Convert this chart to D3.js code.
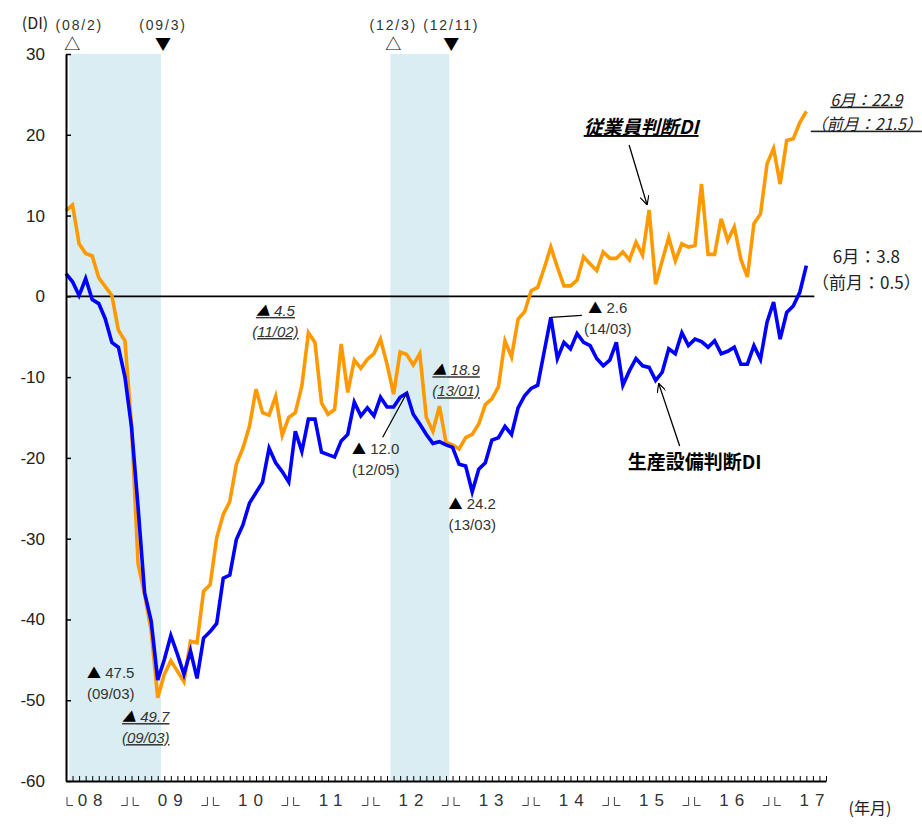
<!DOCTYPE html>
<html>
<head>
<meta charset="utf-8">
<script src="https://cdn.jsdelivr.net/npm/d3@7"></script>
<style>
body { margin: 0; background: #fff; }
text { font-family: 'Liberation Sans', 'Noto Sans CJK JP', sans-serif; fill: #222; }
.jp { font-family: 'Noto Sans CJK JP', sans-serif; }
</style>
</head>
<body>
<div id="chart"></div>
<script>
(function(){
var width = 922,
height = 826

let margin = { top: 54, left: 66, right: 96, bottom: 45 }

// data
var years = ['08','09','10','11','12','13','14','15','16','17']
var lastMonth = '17/06'

// 従業員判断DI (monthly, 08/01 - 17/06)
var employment = [
  10.6, 11.3, 6.5, 5.3, 5.0, 2.3, 1.2, 0.1, -4.2, -5.5, -16.0, -33.1,
  -36.9, -41.4, -49.7, -46.8, -45.1, -46.4, -47.7, -42.7, -42.9, -36.5, -35.7, -29.9,
  -27.0, -25.4, -20.8, -18.8, -16.1, -11.5, -14.4, -14.7, -12.4, -17.2, -15.0, -14.4,
  -11.1, -4.5, -5.7, -13.2, -14.6, -14.0, -5.9, -11.9, -7.9, -8.9, -7.8, -7.1,
  -5.3, -8.4, -12.1, -6.9, -7.2, -8.5, -7.1, -15.0, -16.7, -13.6, -18.1, -18.4,
  -18.9, -17.5, -17.1, -15.8, -13.4, -12.7, -11.2, -5.5, -7.5, -2.8, -1.9, 0.7,
  1.1, 3.5, 6.1, 3.6, 1.3, 1.3, 2.0, 4.9, 4.0, 3.2, 5.5, 4.7,
  4.7, 5.5, 4.5, 6.7, 5.1, 10.7, 1.5, 4.4, 7.3, 4.4, 6.5, 6.1,
  6.3, 13.9, 5.2, 5.2, 9.6, 6.9, 8.6, 4.6, 2.4, 9.0, 10.2, 16.4,
  18.3, 13.9, 19.3, 19.5, 21.5, 22.9
]

// 生産設備判断DI (monthly, 08/01 - 17/06)
var equipment = [
  2.8, 1.8, 0.1, 2.2, -0.4, -0.9, -2.8, -5.7, -6.3, -10.0, -16.2, -26.1,
  -36.7, -40.2, -47.5, -45.0, -42.0, -44.3, -46.8, -43.9, -47.3, -42.3, -41.5, -40.5,
  -34.9, -34.5, -30.1, -28.3, -25.6, -24.3, -23.0, -18.8, -20.6, -21.7, -23.0, -16.7,
  -19.2, -15.2, -15.2, -19.3, -19.6, -19.9, -17.9, -17.1, -13.1, -14.8, -13.8, -14.8,
  -12.5, -13.7, -13.7, -12.5, -12.0, -14.6, -15.8, -17.1, -18.2, -18.0, -18.4, -18.7,
  -20.8, -21.0, -24.2, -21.4, -20.6, -17.8, -17.5, -16.1, -17.1, -13.8, -12.3, -11.4,
  -11.0, -6.8, -2.6, -7.7, -5.7, -6.5, -4.6, -5.7, -6.1, -7.7, -8.6, -7.9,
  -5.7, -11.0, -9.2, -7.7, -8.6, -8.8, -10.4, -9.4, -6.5, -7.1, -4.5, -6.1,
  -5.3, -5.6, -6.3, -5.5, -7.1, -6.8, -6.3, -8.4, -8.4, -6.1, -7.8, -3.2,
  -0.7, -5.3, -2.0, -1.2, 0.5, 3.8
]

var yTicks = [30, 20, 10, 0, -10, -20, -30, -40, -50, -60]

// 景気の山(△)・谷(▼)
var recessionFrom = ['08/02', '12/03']
var recessionTo = ['09/03', '12/11']
var turnLabels = ['(08/2)', '(09/3)', '(12/3)', '(12/11)']

// notes on lows
var noteSeries = ['equipment', 'employment', 'employment', 'equipment', 'employment', 'equipment', 'equipment']
var noteMonths = ['09/03', '09/03', '11/02', '12/05', '13/01', '13/03', '14/03']

// months 08/01 .. 17/09 (axis runs 3 months past the data)
var months = []
years.forEach(function(y) {
  for (var m = 1; m <= 12; m++) {
    if (y === '17' && m > 9) break
    months.push(y + '/' + (m < 10 ? '0' + m : m))
  }
})
var dataMonths = months.slice(0, months.indexOf(lastMonth) + 1)

var series = {
  employment: dataMonths.map(function(m, i) { return { m: m, v: employment[i] } }),
  equipment: dataMonths.map(function(m, i) { return { m: m, v: equipment[i] } })
}

let svg = d3
.select('#chart')
.append('svg')
.attr('width', width)
.attr('height', height)

var xScale = d3
.scalePoint()
.domain(months)
.range([margin.left, width - margin.right])
.padding(0)

var step = xScale.step()

var yScale = d3
.scaleLinear()
.domain([-60, 30])
.range([height - margin.bottom, margin.top])

// shaded recessions
svg.selectAll('.rec')
  .data(recessionFrom)
  .enter()
  .append('rect')
  .attr('class', 'rec')
  .attr('x', function(d) { return xScale(d) - step / 2 })
  .attr('width', function(d, i) { return xScale(recessionTo[i]) - xScale(d) + step })
  .attr('y', yScale(30))
  .attr('height', yScale(-60) - yScale(30))
  .attr('fill', '#daedf3')

// turning point marks
var turnX = []
recessionFrom.forEach(function(d, i) {
  turnX.push(xScale(d) - step / 2 + 3)
  turnX.push(xScale(recessionTo[i]) + step / 2 + 2)
})
svg.selectAll('.turn')
  .data(turnLabels)
  .enter()
  .append('text')
  .attr('x', function(d, i) { return turnX[i] + (i === 0 ? 7 : 0) })
  .attr('y', 30)
  .attr('text-anchor', 'middle')
  .style('font-size', '14px')
  .style('letter-spacing', '1.8px')
  .style('fill', '#333')
  .text(function(d) { return d })
svg.selectAll('.tri')
  .data(turnLabels)
  .enter()
  .append('text')
  .attr('class', 'jp')
  .attr('x', function(d, i) { return turnX[i] })
  .attr('y', 50)
  .attr('text-anchor', 'middle')
  .style('font-size', '16px')
  .style('fill', '#000')
  .text(function(d, i) { return i % 2 === 0 ? '△' : '▼' })

// zero line
svg.append('line')
  .attr('x1', xScale.range()[0])
  .attr('x2', xScale('17/06') + 8)
  .attr('y1', yScale(0))
  .attr('y2', yScale(0))
  .attr('stroke', '#000')
  .attr('stroke-width', 1.6)

// lines
var line = d3.line()
  .x(function(d) { return xScale(d.m) })
  .y(function(d) { return yScale(d.v) })
  .curve(d3.curveLinear)

svg.append('path')
  .datum(series.employment)
  .attr('d', line)
  .attr('fill', 'none')
  .attr('stroke', '#ff9900')
  .attr('stroke-width', 3.6)
  .attr('stroke-linejoin', 'miter')

svg.append('path')
  .datum(series.equipment)
  .attr('d', line)
  .attr('fill', 'none')
  .attr('stroke', '#0000ff')
  .attr('stroke-width', 3.6)
  .attr('stroke-linejoin', 'miter')

// axes
svg.append('g')
  .attr('transform', 'translate(' + margin.left + ',0)')
  .call(d3.axisLeft(yScale).tickValues(yTicks).tickFormat(d => String(d)).tickSizeInner(-5).tickSizeOuter(0).tickPadding(21))
  .call(g => g.select('.domain').attr('stroke-width', 2))
  .call(g => g.selectAll('.tick line').attr('stroke-width', 1.5))
  .selectAll('text')
    .style('font-size', '17px')
    .style('font-family', "'Liberation Sans', sans-serif")
    .attr('fill', '#222')

svg.append('g')
  .attr('transform', 'translate(0,' + yScale(-60) + ')')
  .call(d3.axisBottom(xScale).tickSizeInner(-5).tickSizeOuter(0).tickFormat(''))
  .call(g => g.select('.domain').attr('stroke-width', 2))
  .call(g => g.selectAll('.tick line').attr('stroke-width', 1))

// year labels
var yearBand = d3.scaleBand().domain(years).range([50, 852])
svg.selectAll('.year')
  .data(years)
  .enter()
  .append('text')
  .attr('x', function(d) { return yearBand(d) + yearBand.bandwidth() / 2 + 3 })
  .attr('y', 806)
  .attr('text-anchor', 'middle')
  .style('font-size', '17px')
  .style('letter-spacing', '6px')
  .style('fill', '#333')
  .text(function(d) { return d })

// year brackets
var brk = svg.append('g').attr('stroke', '#444').attr('stroke-width', 1).attr('fill', 'none')
years.forEach(function(d, i) {
  var b = i === 0 ? 64 : yearBand(d)
  if (i > 0) brk.append('path').attr('d', 'M' + (b - 9) + ',805.5H' + (b - 3) + 'V797')
  brk.append('path').attr('d', 'M' + (b + 3) + ',797V805.5H' + (b + 9))
})

svg.append('text')
  .attr('class', 'jp')
  .attr('x', 35)
  .attr('y', 29)
  .attr('text-anchor', 'middle')
  .style('font-size', '16px')
  .text('(DI)')

svg.append('text')
  .attr('class', 'jp')
  .attr('x', 870)
  .attr('y', 814)
  .attr('text-anchor', 'middle')
  .style('font-size', '16px')
  .text('(年月)')

// notes on lows
var noteLayout = [
  { dx: -47, dy: -7, it: false },
  { dx: -12, dy: 19, it: true },
  { dx: -33, dy: -22, it: true },
  { dx: -31, dy: 55, it: false, lead: [-24, 44] },
  { dx: -3, dy: -79, it: true },
  { dx: 0, dy: 12, it: false },
  { dx: 57, dy: -10, it: false, lead: [31, -2] }
]

noteMonths.forEach(function(m, i) {
  var v = series[noteSeries[i]].find(function(d) { return d.m === m }).v
  var px = xScale(m), py = yScale(v), L = noteLayout[i]
  var g = svg.append('g')
  var t1 = g.append('text')
    .attr('x', px + L.dx)
    .attr('y', py + L.dy)
    .attr('dy', '0.35em')
    .attr('text-anchor', 'middle')
    .style('font-size', '15px')
    .style('font-style', L.it ? 'italic' : 'normal')
    .style('text-decoration', L.it ? 'underline' : 'none')
    .style('fill', '#333')
  t1.append('tspan').attr('class', 'jp').style('font-size', '14px').style('fill', '#000').text('▲')
  t1.append('tspan').text(' ' + Math.abs(v).toFixed(1))
  g.append('text')
    .attr('x', px + L.dx)
    .attr('y', py + L.dy + 21)
    .attr('dy', '0.35em')
    .attr('text-anchor', 'middle')
    .style('font-size', '15px')
    .style('font-style', L.it ? 'italic' : 'normal')
    .style('text-decoration', L.it ? 'underline' : 'none')
    .style('fill', '#333')
    .text('(' + m + ')')
  if (L.lead) {
    g.append('line')
      .attr('x1', px).attr('y1', py)
      .attr('x2', px + L.lead[0]).attr('y2', py + L.lead[1])
      .attr('stroke', '#000')
      .attr('stroke-width', 1.2)
  }
})

// series labels with arrows
svg.append('defs').append('marker')
  .attr('id', 'arr')
  .attr('viewBox', '0 0 10 10')
  .attr('refX', 10).attr('refY', 5)
  .attr('markerWidth', 9).attr('markerHeight', 9)
  .attr('markerUnits', 'userSpaceOnUse')
  .attr('orient', 'auto')
  .append('path')
  .attr('d', 'M0,0 L10,5 L0,10')
  .attr('fill', 'none')
  .attr('stroke', '#000')
  .attr('stroke-width', 1.3)

var empPeak = series.employment[months.indexOf('15/06')]
var eqLow = series.equipment[months.indexOf('15/07')]

svg.append('text')
  .attr('class', 'jp')
  .attr('x', xScale(empPeak.m) - 8)
  .attr('y', 134)
  .attr('text-anchor', 'middle')
  .style('font-size', '19px')
  .style('font-weight', 'bold')
  .style('font-style', 'italic')
  .style('text-decoration', 'underline')
  .style('fill', '#000')
  .text('従業員判断DI')
svg.append('line')
  .attr('x1', xScale(empPeak.m) - 20).attr('y1', 145)
  .attr('x2', xScale(empPeak.m) - 2).attr('y2', yScale(empPeak.v) - 5)
  .attr('stroke', '#000').attr('stroke-width', 1.3)
  .attr('marker-end', 'url(#arr)')

svg.append('text')
  .attr('class', 'jp')
  .attr('x', xScale(eqLow.m) + 39)
  .attr('y', 469)
  .attr('text-anchor', 'middle')
  .style('font-size', '19px')
  .style('font-weight', 'bold')
  .style('fill', '#000')
  .text('生産設備判断DI')
svg.append('line')
  .attr('x1', xScale(eqLow.m) + 24).attr('y1', 446)
  .attr('x2', xScale(eqLow.m) + 3).attr('y2', yScale(eqLow.v) + 3)
  .attr('stroke', '#000').attr('stroke-width', 1.3)
  .attr('marker-end', 'url(#arr)')

// latest values
var n = dataMonths.length
var lastX = xScale(lastMonth)
var latest = [
  { t: '6月：' + employment[n - 1].toFixed(1), y: 100, it: true },
  { t: '（前月：' + employment[n - 2].toFixed(1) + '）', y: 124, it: true },
  { t: '6月：' + equipment[n - 1].toFixed(1), y: 257, it: false },
  { t: '（前月：' + equipment[n - 2].toFixed(1) + '）', y: 283, it: false }
]
svg.selectAll('.latest')
  .data(latest)
  .enter()
  .append('text')
  .attr('class', 'jp')
  .attr('x', lastX + 60)
  .attr('y', function(d) { return d.y })
  .attr('dy', '0.35em')
  .attr('text-anchor', 'middle')
  .style('font-size', function(d) { return d.it ? '16px' : '17px' })
  .style('font-style', function(d) { return d.it ? 'italic' : 'normal' })
  .style('text-decoration', function(d) { return d.it ? 'underline' : 'none' })
  .style('fill', '#222')
  .text(function(d) { return d.t })

})()
</script>
</body>
</html>
